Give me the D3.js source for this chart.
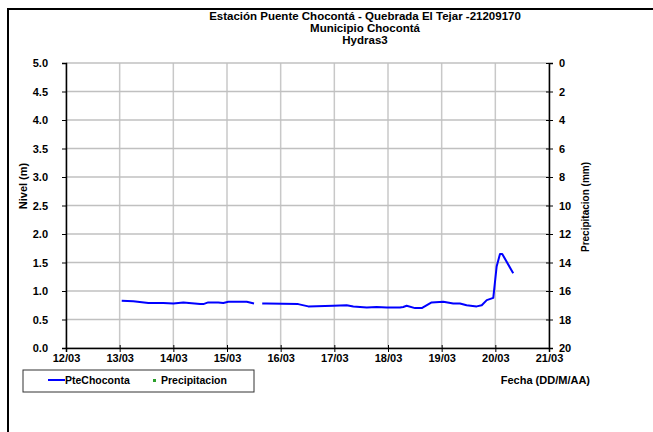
<!DOCTYPE html>
<html>
<head>
<meta charset="utf-8">
<script src="https://cdn.jsdelivr.net/npm/d3@7"></script>
<style>
  body { margin: 0; background: #fff; }
  svg { font-family: "Liberation Sans", Arial, sans-serif; font-weight: bold; }
</style>
</head>
<body>
<div id="chart"></div>
<script>
// level readings (DD/MM HH:MM), null marks the gap in the record
var fechas = ["13/03 00:55", "13/03 06:05", "13/03 12:50", "13/03 19:30", "14/03 00:00", "14/03 04:30",
    "14/03 12:00", "14/03 13:25", "14/03 15:35", "14/03 20:05", "14/03 22:20", "15/03 00:35",
    "15/03 08:50", "15/03 12:05", "15/03 14:00", "15/03 15:45", "15/03 17:45", "16/03 07:50",
    "16/03 12:20", "16/03 23:30", "17/03 05:30", "17/03 08:30", "17/03 14:30", "17/03 18:55",
    "17/03 23:25", "18/03 05:20", "18/03 06:50", "18/03 08:20", "18/03 12:05", "18/03 15:05",
    "18/03 19:30", "19/03 00:45", "19/03 05:10", "19/03 08:10", "19/03 11:10", "19/03 15:40",
    "19/03 17:55", "19/03 20:10", "19/03 23:05", "20/03 00:35", "20/03 02:05", "20/03 03:05",
    "20/03 08:00"];
var nivel = [0.83, 0.82, 0.79, 0.79, 0.78, 0.80,
    0.77, 0.77, 0.80, 0.80, 0.79, 0.81,
    0.81, 0.78, null, 0.78, 0.78, 0.77,
    0.73, 0.74, 0.75, 0.73, 0.71, 0.72,
    0.71, 0.71, 0.72, 0.74, 0.70, 0.70,
    0.80, 0.81, 0.78, 0.78, 0.75, 0.73,
    0.75, 0.84, 0.88, 1.43, 1.65, 1.65,
    1.31];
var diasTicks = ["12/03", "13/03", "14/03", "15/03", "16/03", "17/03", "18/03", "19/03", "20/03", "21/03"];
var nivelTicks = [0, 0.5, 1, 1.5, 2, 2.5, 3, 3.5, 4, 4.5, 5];
var precipTicks = [0, 2, 4, 6, 8, 10, 12, 14, 16, 18, 20];
var titulos = ["Estación Puente Chocontá - Quebrada El Tejar -21209170", "Municipio Chocontá", "Hydras3"];

var W = 653, H = 432;
var pLeft = 66, pRight = 549, pTop = 63, pBottom = 348;

var parse = d3.timeParse("%d/%m %H:%M");
var dParse = d3.timeParse("%d/%m");
var data = fechas.map(function (f, i) { return {t: parse(f), v: nivel[i]}; });

var svg = d3.select("#chart").append("svg")
    .attr("width", W).attr("height", H);

// outer frame
svg.append("rect").attr("x", 8).attr("y", 9).attr("width", 700).attr("height", 500)
    .attr("fill", "none").attr("stroke", "#000").attr("stroke-width", 2);

var x = d3.scaleTime()
    .domain([dParse(diasTicks[0]), dParse(diasTicks[diasTicks.length - 1])])
    .range([pLeft, pRight]);
var y = d3.scaleLinear().domain([0, 5]).range([pBottom, pTop]);
var y2 = d3.scaleLinear().domain([0, 20]).range([pTop, pBottom]);

// grid
svg.append("g").selectAll("line").data(diasTicks).enter().append("line")
    .attr("x1", function (d) { return x(dParse(d)); })
    .attr("x2", function (d) { return x(dParse(d)); })
    .attr("y1", pTop).attr("y2", pBottom)
    .attr("stroke", "#c8c8c8").attr("stroke-width", 1.5);
svg.append("g").selectAll("line").data(nivelTicks).enter().append("line")
    .attr("x1", pLeft).attr("x2", pRight)
    .attr("y1", function (d) { return y(d); })
    .attr("y2", function (d) { return y(d); })
    .attr("stroke", "#c0c0c0").attr("stroke-width", 1.5);

// axes
var axL = svg.append("g").attr("transform", "translate(" + pLeft + ",0)")
    .call(d3.axisLeft(y).tickValues(nivelTicks).tickFormat(d3.format(".1f")).tickSize(4).tickPadding(14));
var axR = svg.append("g").attr("transform", "translate(" + pRight + ",0)")
    .call(d3.axisRight(y2).tickValues(precipTicks).tickSize(4).tickPadding(6));
var axB = svg.append("g").attr("transform", "translate(0," + pBottom + ")")
    .call(d3.axisBottom(x).tickValues(diasTicks.map(function (d) { return dParse(d); }))
        .tickFormat(d3.timeFormat("%d/%m")).tickSize(4).tickPadding(2));
[axL, axR, axB].forEach(function (g) {
    g.selectAll("path").attr("stroke", "#000").attr("stroke-width", 1.5);
    g.selectAll("line").attr("stroke", "#000");
    g.selectAll("text").attr("fill", "#000").style("font-size", "11px")
        .style("font-weight", "bold").style("font-family", "'Liberation Sans', Arial, sans-serif");
});
axR.selectAll(".tick line").attr("x1", -3);
axB.selectAll(".tick line").attr("y1", -3);

// series
var line = d3.line()
    .defined(function (d) { return d.v !== null; })
    .x(function (d) { return x(d.t); })
    .y(function (d) { return y(d.v); });
svg.append("path").datum(data)
    .attr("fill", "none").attr("stroke", "#0000ff").attr("stroke-width", 2)
    .attr("stroke-linejoin", "round").attr("d", line);

// titles
svg.append("g").selectAll("text").data(titulos).enter().append("text")
    .attr("x", 365).attr("y", function (d, i) { return 20 + i * 12; })
    .attr("text-anchor", "middle").style("font-size", "11.5px").text(function (d) { return d; });

svg.append("text").attr("transform", "translate(27,186) rotate(-90)")
    .attr("text-anchor", "middle").style("font-size", "11px").text("Nivel (m)");
svg.append("text").attr("transform", "translate(589,207) rotate(-90)")
    .attr("text-anchor", "middle").style("font-size", "10px").text("Precipitacion (mm)");
svg.append("text").attr("x", 590).attr("y", 384)
    .attr("text-anchor", "end").style("font-size", "11px").text("Fecha (DD/M/AA)");

// legend
var lg = svg.append("g");
lg.append("rect").attr("x", 23).attr("y", 370).attr("width", 231).attr("height", 22)
    .attr("fill", "#fff").attr("stroke", "#333").attr("stroke-width", 1);
lg.append("line").attr("x1", 48).attr("x2", 65).attr("y1", 380).attr("y2", 380)
    .attr("stroke", "#0000ff").attr("stroke-width", 2);
lg.append("text").attr("x", 65).attr("y", 384).style("font-size", "10.5px").text("PteChoconta");
lg.append("rect").attr("x", 153).attr("y", 379).attr("width", 3).attr("height", 3).attr("fill", "#2ca02c");
lg.append("text").attr("x", 161).attr("y", 384).style("font-size", "10.5px").text("Precipitacion");
</script>
</body>
</html>
